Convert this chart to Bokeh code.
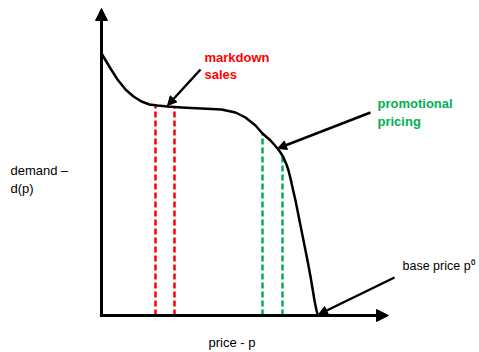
from bokeh.plotting import figure
from bokeh.models import Range1d, Arrow, NormalHead, Label
from bokeh.embed import file_html
from bokeh.resources import INLINE

# Demand curve d(p) (x: price, y: demand; origin at axis corner)
price = [0, 9, 16, 24, 32, 40, 48, 56, 66, 80, 100, 120, 134, 144, 154, 161, 165, 169, 173,
         176, 179, 182, 185, 187, 189, 191, 194, 197, 200, 203, 206, 209, 211, 213, 215, 216.5]
demand = [262, 247, 236, 226, 219, 214, 211, 210, 209, 208, 207, 206, 203, 198, 190, 182, 178.5, 175, 170.5,
          167, 163, 158, 151, 145, 137, 128, 115, 100, 85, 70, 55, 39, 27, 15, 5, 0]

# Markdown sales range (red) and promotional pricing range (green)
markdown_p = [54, 73]
markdown_d = [210, 209]
promo_p = [161, 181]
promo_d = [182, 160]

RED = "#FF0000"
GREEN = "#00B050"

p = figure(width=479, height=352, output_backend="svg", toolbar_location=None,
           x_range=Range1d(-101, 378), y_range=Range1d(-37, 315),
           x_axis_type=None, y_axis_type=None, min_border=0)
p.grid.visible = False
p.outline_line_color = None
p.background_fill_color = "white"

# Axes with arrow heads
p.add_layout(Arrow(end=NormalHead(size=12, fill_color="black", line_color="black"),
                   x_start=0, y_start=0, x_end=0, y_end=307, line_width=3, line_color="black"))
p.add_layout(Arrow(end=NormalHead(size=12, fill_color="black", line_color="black"),
                   x_start=-1.5, y_start=0, x_end=287, y_end=0, line_width=3, line_color="black"))

# Dashed verticals
for xv, yv in zip(markdown_p, markdown_d):
    p.segment(x0=xv, y0=0, x1=xv, y1=yv, line_color=RED, line_width=2.5, line_dash="6 3")
for xv, yv in zip(promo_p, promo_d):
    p.segment(x0=xv, y0=0, x1=xv, y1=yv, line_color=GREEN, line_width=2.5, line_dash="6 3")

# Demand curve
p.line(price, demand, line_color="black", line_width=2.5, line_join="round")

# Callout arrows
def callout(x0, y0, x1, y1):
    p.add_layout(Arrow(end=NormalHead(size=9, fill_color="black", line_color="black"),
                       x_start=x0, y_start=y0, x_end=x1, y_end=y1,
                       line_width=2.5, line_color="black"))

callout(99, 246, 66, 210)
callout(269, 203, 176, 167)
callout(293, 38, 217, 1)

FONT = "Liberation Sans"
def label(x, y, text, color="black", bold=False, size="13px"):
    p.add_layout(Label(x=x, y=y, text=text, text_color=color, text_font=FONT,
                       text_font_size=size, text_font_style="bold" if bold else "normal",
                       text_baseline="middle", text_align="left"))

label(103, 258, "markdown", RED, True)
label(103, 241, "sales", RED, True)
label(276, 212, "promotional", GREEN, True)
label(276, 194, "pricing", GREEN, True)
label(301, 50, "base price p⁰", size="12.5px")
label(-91, 145, "demand –")
label(-91, 127, "d(p)")
label(107, -27, "price - p")

open("out.html", "w").write(file_html(p, INLINE))
